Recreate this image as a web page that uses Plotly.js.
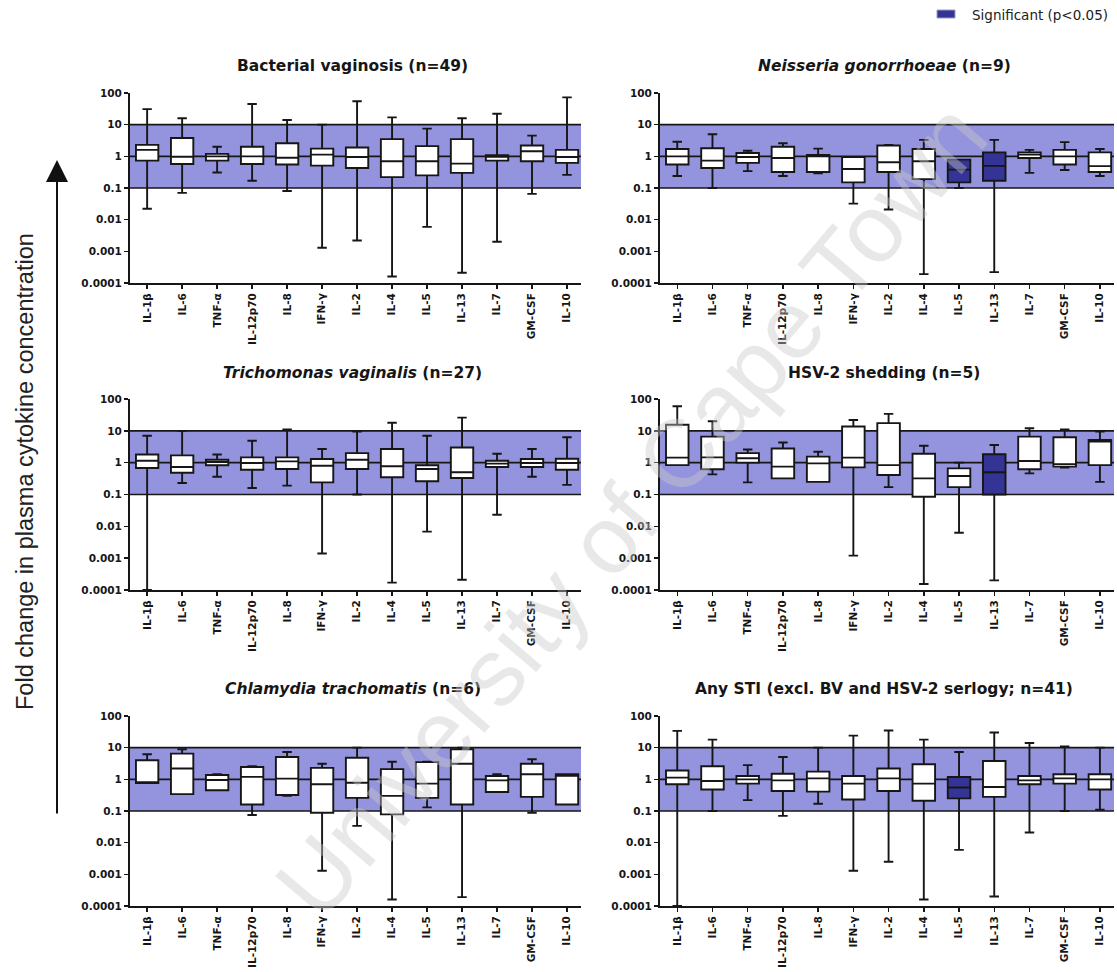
<!DOCTYPE html>
<html>
<head>
<meta charset="utf-8">
<script src="https://cdn.plot.ly/plotly-3.0.1.min.js"></script>
<style>
  html, body { margin: 0; padding: 0; background: #fff; }
  #chart { width: 1117px; height: 972px; }
</style>
</head>
<body>
<div id="chart"></div>
<script>
// Cytokine categories shown on every panel
const cytokines = ['IL-1β', 'IL-6', 'TNF-α', 'IL-12p70', 'IL-8', 'IFN-γ', 'IL-2',
                   'IL-4', 'IL-5', 'IL-13', 'IL-7', 'GM-CSF', 'IL-10'];

const yTickVals = [0.0001, 0.001, 0.01, 0.1, 1, 10, 100];
const yTickText = ['0.0001', '0.001', '0.01', '0.1', '1', '10', '100'];

// Bacterial vaginosis (n=49)
const bvLow  = [0.022, 0.07, 0.31, 0.17, 0.08, 0.0013, 0.0022, 0.00016, 0.0059, 0.00021, 0.002, 0.065, 0.26];
const bvQ1   = [0.73, 0.57, 0.73, 0.57, 0.55, 0.51, 0.43, 0.22, 0.25, 0.30, 0.73, 0.70, 0.62];
const bvMed  = [1.6, 0.97, 1.0, 1.0, 0.9, 1.13, 0.95, 0.7, 0.7, 0.59, 0.97, 1.44, 0.95];
const bvQ3   = [2.3, 3.8, 1.2, 2.0, 2.6, 1.75, 1.9, 3.5, 2.1, 3.5, 1.08, 2.2, 1.6];
const bvHigh = [31, 16, 2.0, 45, 14, 10, 55, 17, 7.5, 16, 22, 4.5, 73];
const bvSig  = [];

// Neisseria gonorrhoeae (n=9)
const ngLow  = [0.24, 0.1, 0.34, 0.24, 0.29, 0.032, 0.021, 0.00019, 0.1, 0.00022, 0.3, 0.37, 0.24];
const ngQ1   = [0.55, 0.43, 0.62, 0.32, 0.32, 0.15, 0.32, 0.19, 0.15, 0.17, 0.89, 0.55, 0.32];
const ngMed  = [1.0, 0.73, 0.95, 0.89, 1.0, 0.4, 0.65, 0.7, 0.38, 0.5, 1.13, 1.0, 0.49];
const ngQ3   = [1.7, 1.8, 1.27, 2.0, 1.1, 0.95, 2.2, 1.7, 0.79, 1.33, 1.33, 1.6, 1.33];
const ngHigh = [2.9, 5.0, 1.5, 2.6, 1.75, 0.95, 2.3, 3.3, 0.79, 3.3, 1.6, 2.8, 1.7];
const ngSig  = ['IL-5', 'IL-13'];

// Trichomonas vaginalis (n=27)
const tvLow  = [0.0001, 0.23, 0.36, 0.16, 0.19, 0.0014, 0.1, 0.00017, 0.0068, 0.00021, 0.023, 0.36, 0.2];
const tvQ1   = [0.68, 0.48, 0.83, 0.6, 0.63, 0.24, 0.63, 0.35, 0.26, 0.33, 0.73, 0.73, 0.6];
const tvMed  = [1.15, 0.73, 1.05, 0.98, 1.1, 0.8, 1.24, 0.77, 0.63, 0.5, 0.93, 0.98, 0.98];
const tvQ3   = [1.8, 1.7, 1.24, 1.47, 1.47, 1.3, 2.0, 2.7, 0.83, 3.0, 1.15, 1.3, 1.33];
const tvHigh = [7, 10, 1.8, 4.9, 11, 2.7, 9.5, 18, 7, 26, 1.9, 2.7, 6.3];
const tvSig  = [];

// HSV-2 shedding (n=5)
const hsvLow  = [0.84, 0.43, 0.24, 0.32, 0.25, 0.0012, 0.17, 0.000155, 0.0063, 0.0002, 0.46, 0.7, 0.25];
const hsvQ1   = [0.84, 0.62, 1.0, 0.32, 0.25, 0.71, 0.41, 0.085, 0.17, 0.1, 0.62, 0.75, 0.84];
const hsvMed  = [1.44, 1.47, 1.37, 0.75, 0.95, 1.44, 0.84, 0.32, 0.38, 0.5, 1.13, 0.9, 4.6];
const hsvQ3   = [15.5, 6.6, 2.0, 2.8, 1.55, 13.7, 17.5, 1.9, 0.66, 1.83, 6.6, 6.3, 5.2];
const hsvHigh = [59, 20, 2.6, 4.3, 2.2, 22, 34, 3.4, 1.0, 3.6, 12, 11, 9.5];
const hsvSig  = ['IL-13'];

// Chlamydia trachomatis (n=6)
const ctLow  = [0.76, 0.34, 0.45, 0.075, 0.3, 0.0013, 0.034, 0.00016, 0.13, 0.00019, 0.4, 0.088, 0.16];
const ctQ1   = [0.76, 0.34, 0.45, 0.16, 0.32, 0.088, 0.26, 0.078, 0.26, 0.16, 0.4, 0.28, 0.16];
const ctMed  = [0.8, 2.2, 0.95, 1.2, 1.05, 0.7, 0.78, 0.3, 0.73, 3.1, 0.93, 1.44, 1.3];
const ctQ3   = [4.0, 6.5, 1.37, 2.45, 5.1, 2.3, 4.8, 2.1, 3.5, 8.9, 1.27, 3.1, 1.44];
const ctHigh = [6.2, 8.9, 1.44, 2.6, 7.3, 3.1, 10, 3.6, 3.6, 10, 1.44, 4.3, 1.44];
const ctSig  = [];

// Any STI (excl. BV and HSV-2 serology; n=41)
const anyLow  = [0.0001, 0.1, 0.22, 0.07, 0.17, 0.0013, 0.0025, 0.00016, 0.0059, 0.0002, 0.021, 0.1, 0.11];
const anyQ1   = [0.7, 0.48, 0.73, 0.43, 0.41, 0.23, 0.43, 0.21, 0.25, 0.28, 0.7, 0.73, 0.48];
const anyMed  = [1.13, 0.89, 1.0, 0.93, 1.07, 0.73, 1.07, 0.73, 0.55, 0.57, 0.93, 1.07, 1.0];
const anyQ3   = [1.9, 2.6, 1.27, 1.5, 1.75, 1.27, 2.2, 3.0, 1.18, 3.8, 1.27, 1.44, 1.44];
const anyHigh = [34, 18, 2.8, 5.1, 10, 24, 35, 18, 7.3, 30, 14, 11, 10];
const anySig  = ['IL-5'];

const panelTitles = [
  'Bacterial vaginosis (n=49)',
  '<i>Neisseria gonorrhoeae</i> (n=9)',
  '<i>Trichomonas vaginalis</i> (n=27)',
  'HSV-2 shedding (n=5)',
  '<i>Chlamydia trachomatis</i> (n=6)',
  'Any STI (excl. BV and HSV-2 serlogy; n=41)'
];

const panels = [
  {low: bvLow,  q1: bvQ1,  med: bvMed,  q3: bvQ3,  high: bvHigh,  sig: bvSig},
  {low: ngLow,  q1: ngQ1,  med: ngMed,  q3: ngQ3,  high: ngHigh,  sig: ngSig},
  {low: tvLow,  q1: tvQ1,  med: tvMed,  q3: tvQ3,  high: tvHigh,  sig: tvSig},
  {low: hsvLow, q1: hsvQ1, med: hsvMed, q3: hsvQ3, high: hsvHigh, sig: hsvSig},
  {low: ctLow,  q1: ctQ1,  med: ctMed,  q3: ctQ3,  high: ctHigh,  sig: ctSig},
  {low: anyLow, q1: anyQ1, med: anyMed, q3: anyQ3, high: anyHigh, sig: anySig}
];

// Page geometry (pixels) for each panel's plotting area
const W = 1117, H = 972;
const colX = [[130, 581], [660, 1114]];
const rowY = [[93, 283], [399, 590], [716, 906]];
const titleY = [66, 373, 689];

const BAND = 'rgb(148,148,222)';
const SIGFILL = 'rgb(52,52,150)';
const INK = '#161616';
const SANS = 'Liberation Sans, Arial, sans-serif';
const WIDE = 'DejaVu Sans, Verdana, sans-serif';

const px = x => x / W;
const py = y => 1 - y / H;

const data = [];
const layout = {
  width: W, height: H,
  margin: {l: 0, r: 0, t: 0, b: 0},
  paper_bgcolor: '#fff', plot_bgcolor: 'rgba(0,0,0,0)',
  showlegend: false,
  boxmode: 'overlay',
  font: {family: WIDE, color: INK},
  shapes: [], annotations: []
};

panels.forEach((p, i) => {
  const col = i % 2, row = Math.floor(i / 2);
  const n = i + 1;
  const xa = 'x' + (n === 1 ? '' : n), ya = 'y' + (n === 1 ? '' : n);
  const xKey = 'xaxis' + (n === 1 ? '' : n), yKey = 'yaxis' + (n === 1 ? '' : n);

  [false, true].forEach(isSig => {
    const idx = cytokines.map((c, k) => k).filter(k => p.sig.includes(cytokines[k]) === isSig);
    if (!idx.length) return;
    data.push({
      type: 'box', xaxis: xa, yaxis: ya,
      x: idx.map(k => cytokines[k]),
      lowerfence: idx.map(k => p.low[k]),
      q1: idx.map(k => p.q1[k]),
      median: idx.map(k => p.med[k]),
      q3: idx.map(k => p.q3[k]),
      upperfence: idx.map(k => p.high[k]),
      boxpoints: false,
      width: 0.64,
      whiskerwidth: 0.42,
      fillcolor: isSig ? SIGFILL : '#ffffff',
      line: {color: INK, width: 1.9},
      hoverinfo: 'skip'
    });
  });

  layout[xKey] = {
    domain: [px(colX[col][0]), px(colX[col][1])],
    anchor: ya,
    type: 'category',
    categoryorder: 'array', categoryarray: cytokines,
    range: [-0.49, 12.4],
    tickangle: -90,
    ticks: 'outside', ticklen: 4, tickwidth: 1.5, tickcolor: INK,
    tickfont: {family: WIDE, size: 10.5, color: INK, weight: 'bold'},
    showline: true, linewidth: 2, linecolor: INK,
    showgrid: false, zeroline: false, fixedrange: true
  };
  layout[yKey] = {
    domain: [py(rowY[row][1]), py(rowY[row][0])],
    anchor: xa,
    type: 'log',
    range: [-4, 2],
    tickvals: yTickVals, ticktext: yTickText,
    ticks: 'outside', ticklen: 4, tickwidth: 1.5, tickcolor: INK,
    tickfont: {family: WIDE, size: 10.5, color: INK, weight: 'bold'},
    showline: true, linewidth: 2, linecolor: INK,
    showgrid: false, zeroline: false, fixedrange: true
  };

  // shaded 0.1–10 band with its borders and the reference line at 1
  layout.shapes.push({
    type: 'rect', layer: 'below', xref: xa + ' domain', yref: ya,
    x0: 0, x1: 1, y0: 0.1, y1: 10, fillcolor: BAND, line: {width: 0}
  });
  [0.1, 1, 10].forEach(v => layout.shapes.push({
    type: 'line', layer: 'below', xref: xa + ' domain', yref: ya,
    x0: 0, x1: 1, y0: v, y1: v, line: {color: INK, width: 1.6}
  }));

  layout.annotations.push({
    text: '<b>' + panelTitles[i] + '</b>',
    xref: 'paper', yref: 'paper',
    x: (px(colX[col][0]) + px(colX[col][1])) / 2 - px(3), y: py(titleY[row]),
    xanchor: 'center', yanchor: 'middle', showarrow: false,
    font: {family: WIDE, size: 15.5, color: INK}
  });
});

// shared vertical axis label with an upward arrow
layout.annotations.push({
  text: 'Fold change in plasma cytokine concentration',
  xref: 'paper', yref: 'paper', x: px(25), y: py(472),
  textangle: -90, showarrow: false, xanchor: 'center', yanchor: 'middle',
  font: {family: SANS, size: 23.5, color: '#222'}
});
layout.annotations.push({
  text: '', xref: 'paper', yref: 'paper', x: px(57), y: py(160),
  showarrow: true, ax: 0, ay: 655, arrowhead: 2, arrowsize: 2.2,
  arrowwidth: 2, arrowcolor: '#111'
});

// legend key for significant boxes
layout.shapes.push({
  type: 'rect', xref: 'paper', yref: 'paper',
  x0: px(937), x1: px(955), y0: py(18), y1: py(10),
  fillcolor: SIGFILL, line: {color: '#9a9ac8', width: 1}
});
layout.annotations.push({
  text: 'Significant (p<0.05)', xref: 'paper', yref: 'paper',
  x: px(970), y: py(15), xanchor: 'left', yanchor: 'middle', showarrow: false,
  font: {family: WIDE, size: 13.5, color: '#222'}
});

// repository watermark across the figure
layout.annotations.push({
  text: 'University of Cape Town', xref: 'paper', yref: 'paper',
  x: px(630), y: py(510), xanchor: 'center', yanchor: 'middle',
  textangle: -49.5, showarrow: false,
  font: {family: SANS, size: 96, color: 'rgba(200,200,200,0.42)'}
});

Plotly.newPlot('chart', data, layout, {staticPlot: true, displayModeBar: false});
</script>
</body>
</html>
